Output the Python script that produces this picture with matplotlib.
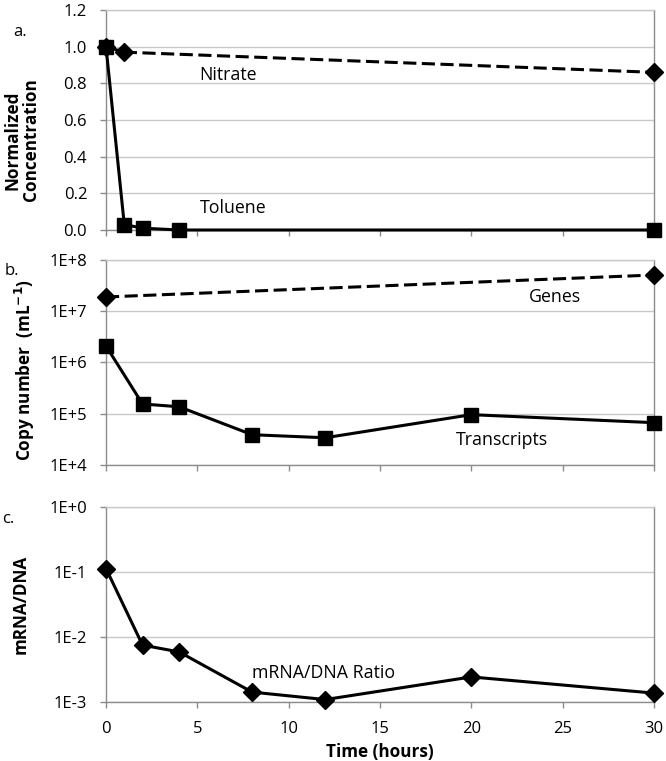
import matplotlib
matplotlib.use("Agg")
import matplotlib.pyplot as plt
from matplotlib.ticker import FixedLocator, NullLocator

plt.rcParams['font.family'] = ['Open Sans', 'DejaVu Sans']

# ---- data ----
nitrate_t = [0, 1, 30]
nitrate_v = [1.0, 0.97, 0.86]
toluene_t = [0, 1, 2, 4, 30]
toluene_v = [1.0, 0.03, 0.01, 0.0, 0.0]

genes_t = [0, 30]
genes_v = [1.9e7, 5.1e7]
trans_t = [0, 2, 4, 8, 12, 20, 30]
trans_v = [2.1e6, 1.55e5, 1.37e5, 3.9e4, 3.4e4, 9.6e4, 6.7e4]

ratio_t = [0, 2, 4, 8, 12, 20, 30]
ratio_v = [0.113, 7.5e-3, 5.9e-3, 1.42e-3, 1.09e-3, 2.43e-3, 1.37e-3]

x_ticks = [0, 5, 10, 15, 20, 25, 30]
a_yticks = [0.0, 0.2, 0.4, 0.6, 0.8, 1.0, 1.2]
b_yticks = [1e4, 1e5, 1e6, 1e7, 1e8]
b_ylabels = ['1E+4', '1E+5', '1E+6', '1E+7', '1E+8']
c_yticks = [1e-3, 1e-2, 1e-1, 1e0]
c_ylabels = ['1E-3', '1E-2', '1E-1', '1E+0']

W, H = 666, 761
fig = plt.figure(figsize=(W / 100, H / 100), dpi=100)

def ax_rect(x0, x1, ytop, ybot):
    return [x0 / W, 1 - ybot / H, (x1 - x0) / W, (ybot - ytop) / H]

ax_a = fig.add_axes(ax_rect(106, 654, 10, 230))
ax_b = fig.add_axes(ax_rect(106, 654, 260, 465))
ax_c = fig.add_axes(ax_rect(106, 654, 507, 702))

grid_col = '#c8c8c8'
spine_col = '#8c8c8c'
fs = 12
afs = 12.8
lfs = 12.3
dash = (0, (4.3, 1.8))

for ax in (ax_a, ax_b, ax_c):
    ax.set_xlim(0, 30)
    ax.xaxis.set_major_locator(FixedLocator(x_ticks))
    ax.xaxis.set_minor_locator(NullLocator())
    for s in ax.spines.values():
        s.set_color(spine_col)
        s.set_linewidth(1.0)
    ax.spines['top'].set_color(grid_col)
    ax.yaxis.grid(True, color=grid_col, linewidth=1.0)
    ax.set_axisbelow(True)
    ax.tick_params(axis='both', direction='out', length=4.5, width=1,
                   color=spine_col, labelsize=fs)
    ax.tick_params(axis='y', pad=9)
    ax.tick_params(axis='x', pad=9.5)

def place_ylabel(ax, xpx, frac):
    x0 = ax.get_position().x0 * W
    wpx = ax.get_position().width * W
    ax.yaxis.set_label_coords((xpx - x0) / wpx, frac)
    ax.yaxis.label.set_ha('center')
    ax.yaxis.label.set_va('center')

# panel a
ax_a.plot(nitrate_t, nitrate_v, color='black', lw=2.2, ls=dash,
          marker='D', ms=9.5, clip_on=False, zorder=3)
ax_a.plot(toluene_t, toluene_v, color='black', lw=2.2, marker='s', ms=9.5,
          clip_on=False, zorder=4)
ax_a.set_ylim(0, 1.2)
ax_a.yaxis.set_major_locator(FixedLocator(a_yticks))
ax_a.set_yticklabels([f'{v:.1f}' for v in a_yticks])
ax_a.set_xticklabels([])
ax_a.set_ylabel('Normalized\nConcentration', fontsize=lfs, fontweight='bold',
                linespacing=1.05)
place_ylabel(ax_a, 22, 0.41)
ax_a.text(6.7, 0.845, 'Nitrate', fontsize=afs, ha='center', va='center')
ax_a.text(6.95, 0.12, 'Toluene', fontsize=afs, ha='center', va='center')

# panel b
ax_b.set_yscale('log')
ax_b.plot(genes_t, genes_v, color='black', lw=2.2, ls=dash,
          marker='D', ms=9.5, clip_on=False, zorder=3)
ax_b.plot(trans_t, trans_v, color='black', lw=2.2, marker='s', ms=9.5,
          clip_on=False, zorder=4)
ax_b.set_ylim(1e4, 1e8)
ax_b.yaxis.set_major_locator(FixedLocator(b_yticks))
ax_b.yaxis.set_minor_locator(NullLocator())
ax_b.set_yticklabels(b_ylabels)
ax_b.set_xticklabels([])
ax_b.set_ylabel('Copy number  (mL$^{\\mathbf{-1}}$)', fontsize=lfs,
                fontweight='bold')
place_ylabel(ax_b, 25, 0.463)
ax_b.text(24.6, 10**7.28, 'Genes', fontsize=afs, ha='center', va='center')
ax_b.text(21.7, 10**4.49, 'Transcripts', fontsize=afs, ha='center', va='center')

# panel c
ax_c.set_yscale('log')
ax_c.plot(ratio_t, ratio_v, color='black', lw=2.2, marker='D', ms=9.5,
          clip_on=False, zorder=4)
ax_c.set_ylim(1e-3, 1e0)
ax_c.yaxis.set_major_locator(FixedLocator(c_yticks))
ax_c.yaxis.set_minor_locator(NullLocator())
ax_c.set_yticklabels(c_ylabels)
ax_c.set_xticklabels([str(v) for v in x_ticks])
ax_c.set_ylabel('mRNA/DNA', fontsize=lfs, fontweight='bold')
place_ylabel(ax_c, 21, 0.50)
ax_c.set_xlabel('Time (hours)', fontsize=lfs, fontweight='bold')
ax_c.xaxis.set_label_coords(0.5, -(752 - 702) / 195)
ax_c.xaxis.label.set_va('center')
ax_c.text(11.9, 10**-2.56, 'mRNA/DNA Ratio', fontsize=afs, ha='center',
          va='center')

# panel letters
fig.text(20 / W, 1 - 32 / H, 'a.', fontsize=fs, ha='center', va='center')
fig.text(12 / W, 1 - 271 / H, 'b.', fontsize=fs, ha='center', va='center')
fig.text(8 / W, 1 - 519 / H, 'c.', fontsize=fs, ha='center', va='center')

fig.savefig('out.png', dpi=100)
